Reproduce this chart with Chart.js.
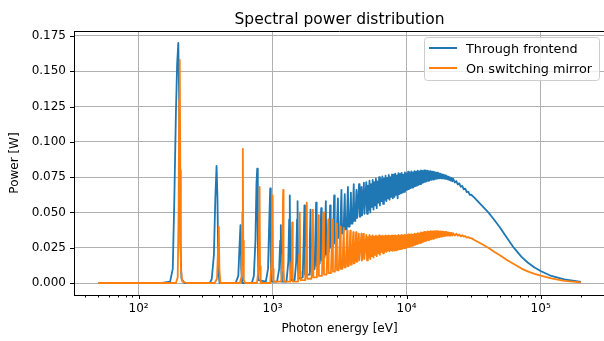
<!DOCTYPE html>
<html>
<head>
<meta charset="utf-8">
<script src="https://cdn.jsdelivr.net/npm/chart.js@4.4.1/dist/chart.umd.min.js"></script>
<style>
  html, body { margin: 0; padding: 0; background: #fff; overflow: hidden; }
  canvas { display: block; }
</style>
</head>
<body>
<canvas id="chart" width="612" height="341"></canvas>
<script>
// Spectral power distribution — undulator harmonics, log energy axis
const TITLE = 'Spectral power distribution';
const X_LABEL = 'Photon energy [eV]';
const Y_LABEL = 'Power [W]';
const SERIES = ['Through frontend', 'On switching mirror'];
const COLORS = ['#1f77b4', '#ff7f0e'];

const xMajor = [100, 1000, 10000, 100000];
const xMajorLabels = ['10²', '10³', '10⁴', '10⁵'];
const xMinor = [40, 50, 60, 70, 80, 90,
  200, 300, 400, 500, 600, 700, 800, 900,
  2000, 3000, 4000, 5000, 6000, 7000, 8000, 9000,
  20000, 30000, 40000, 50000, 60000, 70000, 80000, 90000,
  200000, 300000];
const yTicks = [0, 0.025, 0.05, 0.075, 0.1, 0.125, 0.15, 0.175];

// low harmonics, through frontend
const blueLowE = [
  50, 150, 172, 180, 185, 190, 194, 198, 201, 205, 209, 220,
  340, 352, 365, 374, 382, 388, 394, 402,
  530, 555, 566, 576, 584, 594,
  700, 725, 745, 758, 768, 776, 785,
  890, 925, 945, 960, 970, 980,
  1080, 1120, 1140, 1152, 1163, 1175,
  1270, 1310, 1330, 1344, 1356, 1368,
  1460, 1500, 1522, 1536, 1549, 1562,
  1680, 1705, 1728, 1745,
  1870, 1895, 1920, 1938,
  2060, 2112, 2133,
  2250, 2304, 2327,
  2440, 2496, 2521,
  2625, 2688, 2715,
  2815, 2880, 2909,
  3000, 3072, 3103,
  3190, 3264, 3297,
  3380, 3456, 3491,
  3570, 3648, 3685,
  3760, 3840, 3878,
  3950, 4032, 4072,
  4140, 4224, 4266,
  4330, 4416, 4460,
  4520, 4608, 4654,
  4710, 4800, 4848
];
const blueLowP = [
  0, 0, 0.001, 0.01, 0.06, 0.12, 0.155, 0.170, 0.13, 0.03, 0.003, 0,
  0, 0.003, 0.02, 0.06, 0.083, 0.06, 0.01, 0,
  0, 0.005, 0.025, 0.041, 0.01, 0,
  0, 0.005, 0.03, 0.07, 0.081, 0.03, 0.002,
  0.001, 0.01, 0.045, 0.067, 0.015, 0.001,
  0.001, 0.01, 0.03, 0.041, 0.008, 0.001,
  0.001, 0.015, 0.045, 0.062, 0.01, 0.002,
  0.002, 0.015, 0.045, 0.058, 0.01, 0.003,
  0.004, 0.03, 0.055, 0.006,
  0.006, 0.03, 0.052, 0.008,
  0.01, 0.057, 0.012,
  0.014, 0.053, 0.016,
  0.018, 0.058, 0.02,
  0.022, 0.055, 0.025,
  0.026, 0.062, 0.028,
  0.03, 0.06, 0.032,
  0.033, 0.066, 0.035,
  0.036, 0.063, 0.038,
  0.038, 0.068, 0.04,
  0.04, 0.064, 0.042,
  0.042, 0.07, 0.044,
  0.044, 0.066, 0.046,
  0.046, 0.07, 0.047,
  0.047, 0.068, 0.048,
  0.048, 0.071, 0.049
];

// low harmonics, on switching mirror
const orangeLowE = [
  50, 190, 196, 199, 201, 203, 205, 207, 212, 230,
  370, 385, 392, 397, 401, 408,
  570, 588, 595, 600, 604, 610, 625,
  765, 785, 795, 800, 806, 815,
  960, 982, 994, 1001, 1008, 1018,
  1160, 1182, 1193, 1200, 1208, 1220,
  1355, 1380, 1393, 1400, 1409, 1420,
  1550, 1578, 1592, 1600, 1610, 1622,
  1750, 1778, 1800, 1812,
  1950, 1978, 2000, 2014,
  2140, 2200, 2216,
  2335, 2400, 2418,
  2530, 2600, 2620,
  2725, 2800, 2822,
  2920, 3000, 3024,
  3115, 3200, 3226,
  3310, 3400, 3428,
  3505, 3600, 3630,
  3700, 3800, 3831,
  3895, 4000, 4033,
  4090, 4200, 4234,
  4285, 4400, 4436,
  4480, 4600, 4637,
  4675, 4800, 4839
];
const orangeLowP = [
  0, 0, 0.004, 0.05, 0.13, 0.158, 0.08, 0.01, 0.001, 0,
  0, 0.003, 0.025, 0.04, 0.01, 0,
  0, 0.005, 0.05, 0.095, 0.03, 0.002, 0,
  0, 0.01, 0.05, 0.068, 0.012, 0,
  0, 0.015, 0.05, 0.062, 0.01, 0.001,
  0.001, 0.02, 0.055, 0.066, 0.01, 0.001,
  0.001, 0.015, 0.035, 0.043, 0.008, 0.001,
  0.001, 0.02, 0.042, 0.05, 0.008, 0.002,
  0.002, 0.025, 0.057, 0.003,
  0.003, 0.025, 0.052, 0.004,
  0.004, 0.048, 0.005,
  0.005, 0.05, 0.006,
  0.006, 0.045, 0.007,
  0.007, 0.045, 0.008,
  0.008, 0.042, 0.009,
  0.009, 0.04, 0.01,
  0.01, 0.039, 0.011,
  0.011, 0.037, 0.012,
  0.012, 0.037, 0.013,
  0.013, 0.036, 0.014,
  0.014, 0.036, 0.015,
  0.015, 0.035, 0.016,
  0.016, 0.035, 0.016,
  0.017, 0.035, 0.017
];

// dense region, unresolved harmonics: alternating band top / band bottom
const denseE = [
  5000, 5070, 5140, 5212, 5284, 5358, 5432, 5508, 5584, 5662,
  5741, 5820, 5901, 5983, 6066, 6150, 6236, 6322, 6410, 6499,
  6590, 6681, 6774, 6868, 6964, 7060, 7159, 7258, 7359, 7461,
  7565, 7670, 7777, 7885,
  8000, 8111, 8224, 8338, 8454, 8572, 8691, 8812, 8934, 9058,
  9184, 9312, 9441, 9572, 9705, 9840, 9977, 10116, 10256, 10399,
  10543, 10690, 10838, 10989, 11142, 11296, 11453, 11613, 11774, 11938,
  12104, 12272, 12443, 12616, 12791, 12969, 13149, 13332, 13517, 13705,
  13895, 14088, 14284, 14483, 14684, 14888, 15095, 15305, 15518, 15733,
  15952, 16174, 16398, 16626, 16857, 17092, 17329, 17570, 17814, 18062,
  18313, 18568, 18826, 19087, 19353, 19622, 19894, 20171, 20451, 20736,
  21024, 21316, 21612, 21913, 22217,
  22870, 23460, 24080, 24700, 25350, 26000, 26690, 27380, 28100, 28830,
  29590, 30350
];
const denseBlue = [
  0.0715, 0.049, 0.069, 0.052, 0.0725, 0.050, 0.070, 0.054, 0.073, 0.052,
  0.0715, 0.055, 0.074, 0.053, 0.072, 0.057, 0.075, 0.055, 0.0735, 0.058,
  0.0755, 0.056, 0.074, 0.059, 0.076, 0.058, 0.0745, 0.060, 0.0765, 0.059,
  0.075, 0.061, 0.077, 0.060,
  0.0768, 0.061, 0.0775, 0.0625, 0.0762, 0.060, 0.0778, 0.063, 0.0772, 0.0635,
  0.078, 0.064, 0.0768, 0.0645, 0.0783, 0.0655, 0.0776, 0.066, 0.0788, 0.0665,
  0.0779, 0.0672, 0.079, 0.0675, 0.0784, 0.068, 0.0793, 0.0686, 0.0788, 0.069,
  0.0796, 0.0695, 0.0791, 0.070, 0.0798, 0.0706, 0.0794, 0.0712, 0.0798, 0.0716,
  0.0795, 0.072, 0.0796, 0.0724, 0.0792, 0.0728, 0.0793, 0.073, 0.0789, 0.0733,
  0.0788, 0.0736, 0.0784, 0.0738, 0.0782, 0.074, 0.0778, 0.0741, 0.0775, 0.0742,
  0.0771, 0.0741, 0.0767, 0.0739, 0.0763, 0.0737, 0.0758, 0.0734, 0.0754, 0.073,
  0.0749, 0.0726, 0.0744, 0.0721, 0.0739,
  0.0712, 0.0722, 0.0698, 0.0706, 0.0682, 0.0688, 0.0664, 0.0668, 0.0644, 0.0647,
  0.0624, 0.0625
];
const denseOrange = [
  0.034, 0.016, 0.0325, 0.018, 0.034, 0.017, 0.033, 0.019, 0.0338, 0.018,
  0.0328, 0.020, 0.0336, 0.019, 0.033, 0.021, 0.0337, 0.020, 0.033, 0.022,
  0.0336, 0.021, 0.0332, 0.0225, 0.0337, 0.022, 0.0333, 0.023, 0.0337, 0.0225,
  0.0334, 0.0232, 0.0338, 0.0228,
  0.0335, 0.023, 0.0338, 0.0232, 0.0333, 0.0236, 0.034, 0.0238, 0.0336, 0.024,
  0.0341, 0.0243, 0.0337, 0.0246, 0.0342, 0.0248, 0.0339, 0.0252, 0.0344, 0.0255,
  0.034, 0.0259, 0.0346, 0.0263, 0.0343, 0.0267, 0.0349, 0.0271, 0.0347, 0.0275,
  0.0353, 0.0279, 0.0352, 0.0283, 0.0358, 0.0287, 0.0357, 0.0291, 0.0362, 0.0295,
  0.0361, 0.0299, 0.0365, 0.0303, 0.0364, 0.0307, 0.0367, 0.031, 0.0366, 0.0313,
  0.0368, 0.0316, 0.0367, 0.0319, 0.0367, 0.0322, 0.0366, 0.0325, 0.0366, 0.0328,
  0.0365, 0.033, 0.0364, 0.0332, 0.0362, 0.0334, 0.0361, 0.0335, 0.0359, 0.0336,
  0.0357, 0.0336, 0.0355, 0.0336, 0.0353,
  0.0336, 0.0349, 0.0334, 0.0344, 0.033, 0.0338, 0.0328, 0.0332, 0.0322, 0.0325,
  0.0318, 0.0318
];

// high energy tail
const tailE = [32000, 35000, 40700, 45000, 50000, 56000, 63000, 72000, 80000, 90000, 100000, 120000, 150000, 200000];
const tailBlue = [0.0605, 0.0565, 0.050, 0.0448, 0.039, 0.032, 0.025, 0.0185, 0.0145, 0.011, 0.0085, 0.005, 0.0025, 0.0008];
const tailOrange = [0.0305, 0.0285, 0.025, 0.0222, 0.0195, 0.0163, 0.0135, 0.0102, 0.0082, 0.0065, 0.0052, 0.0032, 0.0015, 0.0004];

const FONT = 'DejaVu Sans';

function pts(e, p) { return e.map((v, i) => ({ x: v, y: p[i] })); }
const blueData = pts(blueLowE.concat(denseE, tailE), blueLowP.concat(denseBlue, tailBlue));
const orangeData = pts(orangeLowE.concat(denseE, tailE), orangeLowP.concat(denseOrange, tailOrange));

// top spine, tick marks, title and legend box (matplotlib look)
const frame = {
  id: 'frame',
  afterDraw(chart) {
    const { ctx, chartArea: a, scales: { x, y } } = chart;
    ctx.save();
    ctx.strokeStyle = '#000';
    ctx.lineWidth = 1;
    ctx.beginPath();
    ctx.moveTo(a.left, Math.round(a.top) + 0.5);
    ctx.lineTo(a.right, Math.round(a.top) + 0.5);
    x.ticks.forEach(t => {
      const px = Math.round(x.getPixelForValue(t.value)) + 0.5;
      ctx.moveTo(px, a.bottom);
      ctx.lineTo(px, a.bottom + (t.major ? 4 : 2.5));
    });
    y.ticks.forEach(t => {
      const py = Math.round(y.getPixelForValue(t.value)) + 0.5;
      ctx.moveTo(a.left, py);
      ctx.lineTo(a.left - 4, py);
    });
    ctx.stroke();

    ctx.fillStyle = '#000';
    ctx.font = '15.5px "' + FONT + '"';
    ctx.textAlign = 'center';
    ctx.textBaseline = 'alphabetic';
    ctx.fillText(TITLE, (a.left + a.right) / 2, 23.5);

    // legend
    const bx = a.right - 181, by = a.top + 6, bw = 175, bh = 43;
    ctx.beginPath();
    ctx.roundRect(bx + 0.5, by + 0.5, bw, bh, 3);
    ctx.fillStyle = 'rgba(255,255,255,0.8)';
    ctx.fill();
    ctx.strokeStyle = '#cccccc';
    ctx.stroke();
    ctx.font = '12.8px "' + FONT + '"';
    ctx.textAlign = 'left';
    SERIES.forEach((s, i) => {
      const ly = by + 11 + i * 20;
      ctx.beginPath();
      ctx.strokeStyle = COLORS[i];
      ctx.lineWidth = 2;
      ctx.moveTo(bx + 5, ly);
      ctx.lineTo(bx + 33, ly);
      ctx.stroke();
      ctx.fillStyle = '#000';
      ctx.fillText(s, bx + 42, ly + 4.5);
    });
    ctx.restore();
  }
};

new Chart(document.getElementById('chart'), {
  type: 'line',
  data: {
    datasets: [
      { label: SERIES[0], data: blueData, borderColor: COLORS[0], borderWidth: 1.8, pointRadius: 0, tension: 0, order: 1, borderJoinStyle: 'round' },
      { label: SERIES[1], data: orangeData, borderColor: COLORS[1], borderWidth: 1.8, pointRadius: 0, tension: 0, order: 0, borderJoinStyle: 'round' }
    ]
  },
  options: {
    responsive: false,
    animation: false,
    devicePixelRatio: 1,
    layout: { padding: { top: 31, right: 7, left: 0, bottom: 0 } },
    plugins: { legend: { display: false }, title: { display: false }, tooltip: { enabled: false } },
    scales: {
      x: {
        type: 'logarithmic',
        min: 33, max: 302000,
        afterBuildTicks: s => {
          s.ticks = xMajor.concat(xMinor).sort((p, q) => p - q).map(v => ({ value: v, major: xMajor.includes(v) }));
        },
        afterFit: s => { s.height = 46; },
        ticks: {
          autoSkip: false, maxRotation: 0, padding: 7, color: '#000',
          font: { family: FONT, size: 12 },
          callback: v => { const i = xMajor.indexOf(v); return i < 0 ? '' : xMajorLabels[i]; }
        },
        grid: { drawTicks: false, lineWidth: 1, color: c => (c.tick && c.tick.major) ? '#b0b0b0' : 'rgba(0,0,0,0)' },
        border: { color: '#000', width: 1 },
        title: { display: true, text: X_LABEL, color: '#000', font: { family: FONT, size: 12 }, padding: { top: 0, bottom: 5 } }
      },
      y: {
        min: -0.0085, max: 0.1785,
        afterBuildTicks: s => { s.ticks = yTicks.map(v => ({ value: v })); },
        afterFit: s => { s.width = 74; },
        ticks: {
          padding: 8, color: '#000',
          font: { family: FONT, size: 12 },
          callback: v => Number(v).toFixed(3)
        },
        grid: { drawTicks: false, lineWidth: 1, color: '#b0b0b0' },
        border: { color: '#000', width: 1 },
        title: { display: true, text: Y_LABEL, color: '#000', font: { family: FONT, size: 12 }, padding: { top: 8, bottom: 0 } }
      }
    }
  },
  plugins: [frame]
});
</script>
</body>
</html>
